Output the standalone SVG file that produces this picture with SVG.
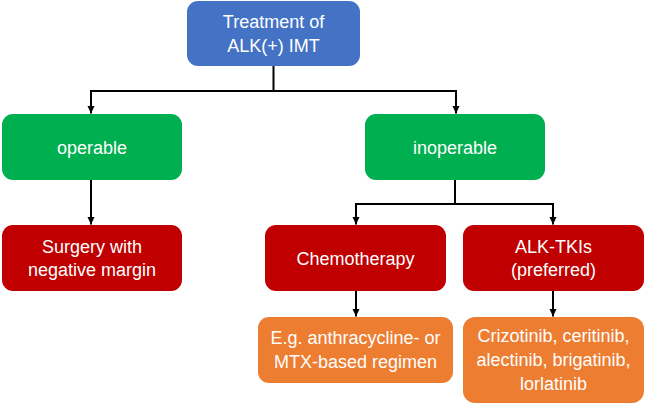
<svg xmlns="http://www.w3.org/2000/svg" width="645" height="405" viewBox="0 0 645 405">
<defs>
<marker id="arr" markerWidth="8" markerHeight="8" refX="7.5" refY="4" orient="auto" markerUnits="userSpaceOnUse">
<path d="M0,0.5 L7.5,4 L0,7.5 Z" fill="#000"/>
</marker>
<style>
.box{stroke:none}
.blue{fill:#4472C4}
.green{fill:#00B050}
.red{fill:#C00000}
.orange{fill:#ED7D31}
text{font-family:"Liberation Sans",Arial,sans-serif;font-size:18px;fill:#fff;text-anchor:middle}
.c{fill:none;stroke:#000;stroke-width:2}
</style>
</defs>
<rect width="645" height="405" fill="#fff"/>
<g id="connectors">
<polyline class="c" points="273.5,66 273.5,91 91,91 91,113.5" marker-end="url(#arr)"/>
<polyline class="c" points="273.5,91 456,91 456,113.5" marker-end="url(#arr)"/>
<polyline class="c" points="91,180 91,224.5" marker-end="url(#arr)"/>
<polyline class="c" points="455,180 455,204 356,204 356,224.5" marker-end="url(#arr)"/>
<polyline class="c" points="455,204 553,204 553,224.5" marker-end="url(#arr)"/>
<polyline class="c" points="356,291 356,316.5" marker-end="url(#arr)"/>
<polyline class="c" points="553,291 553,316.5" marker-end="url(#arr)"/>
</g>
<g id="root">
<rect class="box blue" x="187" y="1" width="173" height="65" rx="11"/>
<text x="273.5" y="28">Treatment of</text>
<text x="273.5" y="52">ALK(+) IMT</text>
</g>
<g id="operable">
<rect class="box green" x="2" y="114" width="180" height="66" rx="11"/>
<text x="92" y="154">operable</text>
</g>
<g id="inoperable">
<rect class="box green" x="365" y="114" width="180" height="66" rx="11"/>
<text x="455" y="154">inoperable</text>
</g>
<g id="surgery">
<rect class="box red" x="2" y="225" width="180" height="66" rx="11"/>
<text x="92" y="253">Surgery with</text>
<text x="92" y="276">negative margin</text>
</g>
<g id="chemo">
<rect class="box red" x="265" y="225" width="181" height="66" rx="11"/>
<text x="355.5" y="265">Chemotherapy</text>
</g>
<g id="alktki">
<rect class="box red" x="463" y="225" width="181" height="66" rx="11"/>
<text x="553.5" y="253">ALK-TKIs</text>
<text x="553.5" y="276">(preferred)</text>
</g>
<g id="chemo-regimen">
<rect class="box orange" x="258" y="317" width="195" height="66" rx="11"/>
<text x="355.5" y="344">E.g. anthracycline- or</text>
<text x="355.5" y="368">MTX-based regimen</text>
</g>
<g id="tki-drugs">
<rect class="box orange" x="463" y="317" width="181" height="86" rx="12"/>
<text x="553.5" y="342">Crizotinib, ceritinib,</text>
<text x="553.5" y="366">alectinib, brigatinib,</text>
<text x="553.5" y="390">lorlatinib</text>
</g>
</svg>
